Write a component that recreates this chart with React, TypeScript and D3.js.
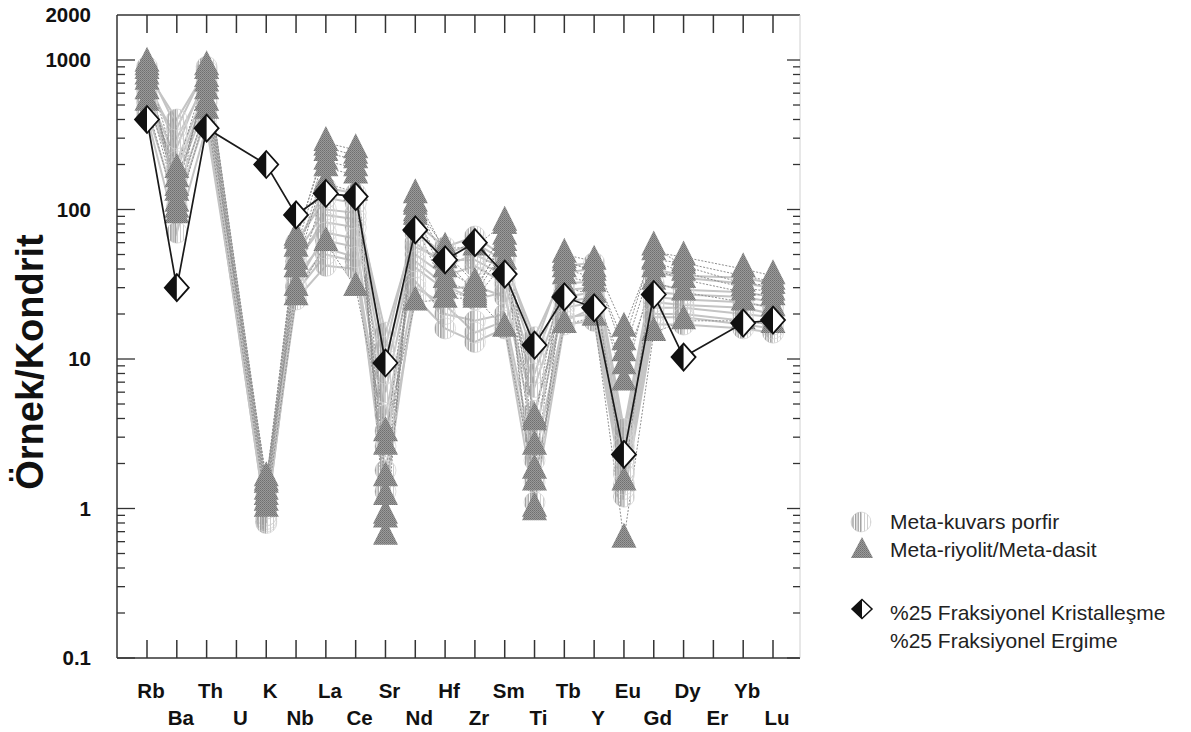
import React from "react";
import * as d3 from "d3";

const ELEMENTS = ["Rb","Ba","Th","U","K","Nb","La","Ce","Sr","Nd","Hf","Zr","Sm","Ti","Tb","Y","Eu","Gd","Dy","Er","Yb","Lu"];

const Y_TICKS = [0.1, 1, 10, 100, 1000, 2000];
const Y_TICK_LABELS = ["0.1", "1", "10", "100", "1000", "2000"];

// Meta-riyolit / Meta-dasit samples (triangles)
const riyolitSamples: (number | null)[][] = [
  [950, 100, 900, null, 1.5, 62, 280, 250, 0.65, 125, 52, 32, 78, 3.8, 50, 45, 16, 52, 48, null, 40, 36],
  [850, 130, 750, null, 1.3, 55, 240, 215, 0.85, 110, 46, 28, 66, 1.8, 44, 40, 11, 46, 44, null, 36, 33],
  [720, 160, 620, null, 1.1, 40, 190, 170, 2.6, 95, 34, 27, 55, 0.95, 36, 32, 7, 40, 34, null, 28, 26],
  [620, 110, 520, null, 1.6, 30, 150, 130, 1.6, 80, 29, 25, 45, 4.0, 30, 27, 9, 33, 28, null, 24, 22],
  [520, 92, 460, null, 1.0, 26, 60, 30, 3.2, 24, 25, 26, 16, 1.5, 17, 19, 0.62, 15, 18, null, 18, 17],
  [900, 185, 850, null, 1.45, 65, 260, 230, 1.2, 105, 55, 56, 82, 2.6, 46, 38, 13, 56, 42, null, 32, 31],
  [780, 140, 700, null, 1.2, 45, 210, 190, 0.9, 90, 40, 30, 60, 1.0, 40, 35, 1.5, 45, 38, null, 30, 28],
];

// Meta-kuvars porfir samples (light grey)
const porfirSamples: (number | null)[][] = [
  [900, 350, 900, null, 0.8, 60, 120, 110, 15, 70, 50, 60, 45, 14, 38, 40, 3, 38, 35, null, 32, 30],
  [760, 260, 800, null, 0.9, 50, 100, 95, 10, 60, 42, 50, 40, 10, 32, 33, 2.6, 32, 29, null, 28, 26],
  [620, 210, 650, null, 1.0, 45, 82, 76, 6, 50, 36, 42, 32, 6.5, 26, 28, 2.1, 26, 25, null, 24, 22],
  [520, 160, 520, null, 1.2, 36, 62, 56, 4.2, 41, 29, 31, 26, 4.5, 22, 24, 1.7, 22, 22, null, 20, 19],
  [460, 105, 420, null, 0.85, 28, 50, 45, 2.6, 33, 20, 18, 20, 2.1, 19, 20, 1.35, 20, 20, null, 18, 17],
  [420, 70, 360, null, 1.1, 25, 42, 40, 1.8, 26, 16, 13, 16, 1.1, 17, 18, 1.2, 17, 17, null, 16, 15],
  [680, 300, 720, null, 1.0, 42, 92, 86, 8, 56, 46, 46, 36, 8, 29, 30, 2.3, 28, 27, null, 26, 24],
  [560, 185, 600, null, 0.9, 31, 70, 64, 3.3, 45, 31, 25, 28, 3, 24, 26, 1.8, 24, 23, null, 22, 20],
  [820, 400, 860, null, 1.3, 57, 140, 128, 12, 82, 56, 66, 48, 12, 42, 44, 3.4, 40, 36, null, 35, 32],
  [700, 130, 460, null, 0.82, 30, 55, 48, 1.3, 30, 23, 15, 18, 1.5, 18, 22, 1.45, 19, 19, null, 17, 16],
];

// %25 Fraksiyonel Kristalleşme / Ergime model
const modelValues: (number | null)[] = [400, 30, 350, null, 200, 92, 128, 122, 9.4, 73, 46, 60, 37, 12.4, 26, 22, 2.3, 27, 10.3, null, 17.4, 18.2];

const LEGEND_LABELS = ["Meta-kuvars porfir", "Meta-riyolit/Meta-dasit", "%25 Fraksiyonel Kristalleşme", "%25 Fraksiyonel Ergime"];

const FONT = "'Liberation Sans', Arial, Helvetica, sans-serif";

const LEFT = 117, RIGHT = 800, TOP = 15, BOTTOM = 658;

export default function App() {
  const x = d3.scalePoint<string>().domain(ELEMENTS).range([147, 773]);
  const y = d3.scaleLog().domain([0.1, 2000]).range([BOTTOM, TOP]);

  const toPts = (vals: (number | null)[]) =>
    vals
      .map((v, i) => (v == null ? null : ([x(ELEMENTS[i]) as number, y(v)] as [number, number])))
      .filter((p): p is [number, number] => p !== null);

  const line = d3.line<[number, number]>();

  const minorTicks: number[] = [];
  for (let e = -1; e < 3; e++) {
    for (let m = 2; m <= 9; m++) minorTicks.push(m * Math.pow(10, e));
  }
  const majorTicks = [0.1, 1, 10, 100, 1000];

  const tri = (cx: number, cy: number, w = 25, h = 25) =>
    `M${cx},${cy - (2 * h) / 3}L${cx + w / 2},${cy + h / 3}L${cx - w / 2},${cy + h / 3}Z`;
  const diamond = (cx: number, cy: number, w = 24, h = 27) =>
    `M${cx},${cy - h / 2}L${cx + w / 2},${cy}L${cx},${cy + h / 2}L${cx - w / 2},${cy}Z`;
  const diamondLeft = (cx: number, cy: number, w = 24, h = 27) =>
    `M${cx},${cy - h / 2}L${cx - w / 2},${cy}L${cx},${cy + h / 2}Z`;
  const halfCircleLeft = (cx: number, cy: number, r: number) =>
    `M${cx},${cy - r}A${r},${r} 0 0 0 ${cx},${cy + r}Z`;

  const porfirMarker = (cx: number, cy: number, key: string, r = 10.5) => (
    <g key={key}>
      <circle cx={cx} cy={cy} r={r} fill="url(#stripeLight)" stroke="#d8d8d8" strokeWidth={0.8} />
      <path d={halfCircleLeft(cx, cy, r)} fill="url(#stripeDark)" />
    </g>
  );

  return (
    <svg width={1191} height={732} style={{ position: "absolute", left: 0, top: 0, background: "#fff" }}>
      <defs>
        <pattern id="stripeDark" width={2.5} height={3} patternUnits="userSpaceOnUse">
          <rect width={1.3} height={3} fill="#a0a0a0" />
        </pattern>
        <pattern id="stripeLight" width={3} height={3} patternUnits="userSpaceOnUse">
          <rect width={1} height={3} fill="#cfcfcf" />
        </pattern>
        <pattern id="triFill" width={2} height={2} patternUnits="userSpaceOnUse">
          <rect width={2} height={2} fill="#9a9a9a" />
          <rect width={1} height={1} fill="#6f6f6f" />
          <rect x={1} y={1} width={1} height={1} fill="#7d7d7d" />
        </pattern>
      </defs>

      {/* porfir lines */}
      <g fill="none" stroke="#c4c4c4" strokeWidth={2}>
        {porfirSamples.map((s, i) => (
          <path key={"pl" + i} d={line(toPts(s)) || ""} />
        ))}
      </g>
      {/* riyolit lines */}
      <g fill="none" stroke="#8e8e8e" strokeWidth={1} strokeDasharray="2,1.5">
        {riyolitSamples.map((s, i) => (
          <path key={"rl" + i} d={line(toPts(s)) || ""} />
        ))}
      </g>
      {/* porfir markers */}
      <g>
        {porfirSamples.map((s, i) => toPts(s).map((p, j) => porfirMarker(p[0], p[1], `pm${i}-${j}`)))}
      </g>
      {/* riyolit markers */}
      <g fill="url(#triFill)">
        {riyolitSamples.map((s, i) => toPts(s).map((p, j) => <path key={`rm${i}-${j}`} d={tri(p[0], p[1])} />))}
      </g>

      {/* model line */}
      <path d={line(toPts(modelValues)) || ""} fill="none" stroke="#1a1a1a" strokeWidth={1.7} />
      <g>
        {toPts(modelValues).map((p, j) => (
          <g key={"md" + j}>
            <path d={diamond(p[0], p[1])} fill="#fff" stroke="#111" strokeWidth={1.8} />
            <path d={diamondLeft(p[0], p[1])} fill="#111" />
          </g>
        ))}
      </g>

      {/* frame */}
      <g stroke="#333" strokeWidth={1.5} fill="none">
        <line x1={LEFT} y1={TOP} x2={RIGHT} y2={TOP} />
        <line x1={LEFT} y1={BOTTOM} x2={RIGHT} y2={BOTTOM} />
        <line x1={LEFT} y1={TOP} x2={LEFT} y2={BOTTOM} />
      </g>
      <line x1={RIGHT} y1={TOP} x2={RIGHT} y2={BOTTOM} stroke="#d0d0d0" strokeWidth={1} />

      {/* x ticks top & bottom */}
      <g stroke="#333" strokeWidth={1.5}>
        {ELEMENTS.map((el) => (
          <g key={"xt" + el}>
            <line x1={x(el)} x2={x(el)} y1={TOP} y2={TOP + 18} />
            <line x1={x(el)} x2={x(el)} y1={BOTTOM} y2={BOTTOM - 18} />
          </g>
        ))}
      </g>

      {/* y ticks left & right */}
      <g stroke="#333" strokeWidth={1.3}>
        {majorTicks.map((t) => (
          <g key={"ymj" + t}>
            <line x1={LEFT} x2={LEFT + 18} y1={y(t)} y2={y(t)} />
            <line x1={RIGHT} x2={RIGHT - 13} y1={y(t)} y2={y(t)} />
          </g>
        ))}
        {minorTicks.map((t) => (
          <g key={"ymn" + t}>
            <line x1={LEFT} x2={LEFT + 8} y1={y(t)} y2={y(t)} />
            <line x1={RIGHT} x2={RIGHT - 7} y1={y(t)} y2={y(t)} />
          </g>
        ))}
      </g>

      {/* y tick labels */}
      <g fontFamily={FONT} fontWeight="bold" fontSize={20.5} fill="#111" textAnchor="end">
        {Y_TICKS.map((t, i) => (
          <text key={"yl" + t} x={91} y={y(t)} dy="0.36em">
            {Y_TICK_LABELS[i]}
          </text>
        ))}
      </g>

      {/* x labels, staggered */}
      <g fontFamily={FONT} fontWeight="bold" fontSize={20.5} fill="#111" textAnchor="middle">
        {ELEMENTS.map((el, i) => (
          <text key={"xl" + el} x={(x(el) as number) + 4} y={i % 2 === 0 ? 698 : 725}>
            {el}
          </text>
        ))}
      </g>

      {/* y axis title */}
      <text
        transform="translate(43,362) rotate(-90)"
        textAnchor="middle"
        fontFamily={FONT}
        fontWeight="bold"
        fontSize={38}
        fill="#111"
      >
        Örnek/Kondrit
      </text>

      {/* legend */}
      <g fontFamily={FONT} fontSize={21} fill="#222">
        {porfirMarker(861, 522, "lg1", 10)}
        <text x={890} y={529}>{LEGEND_LABELS[0]}</text>
        <path d={tri(862, 551, 22, 21)} fill="url(#triFill)" />
        <text x={890} y={557}>{LEGEND_LABELS[1]}</text>
        <path d={diamond(862, 609, 20, 19)} fill="#fff" stroke="#111" strokeWidth={1.5} />
        <path d={diamondLeft(862, 609, 20, 19)} fill="#111" />
        <text x={890} y={620}>{LEGEND_LABELS[2]}</text>
        <text x={890} y={648}>{LEGEND_LABELS[3]}</text>
      </g>
    </svg>
  );
}
